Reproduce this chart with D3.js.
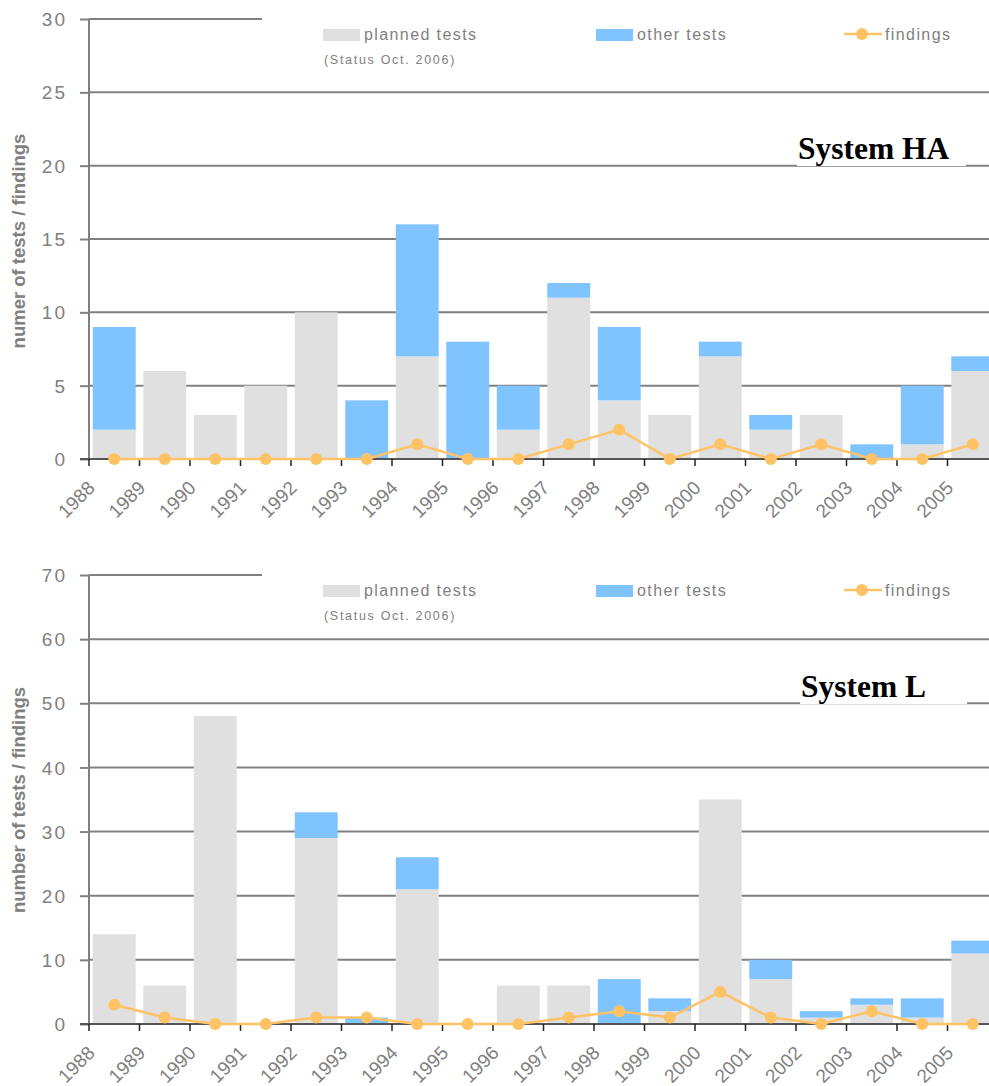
<!DOCTYPE html>
<html>
<head>
<meta charset="utf-8">
<script src="https://cdn.jsdelivr.net/npm/d3@7"></script>
<style>
  body { margin: 0; background: #fff; }
  text { font-family: "Liberation Sans", Arial, sans-serif; }
  text.title { font-family: "Liberation Serif", "Times New Roman", serif; }
</style>
</head>
<body>
<svg id="chart"></svg>
<script>
// years shown on both charts
var years = ["1988", "1989", "1990", "1991", "1992", "1993", "1994", "1995", "1996",
             "1997", "1998", "1999", "2000", "2001", "2002", "2003", "2004", "2005"];

// System HA
var haPlanned  = [2, 6, 3, 5, 10, 0, 7, 0, 2, 11, 4, 3, 7, 2, 3, 0, 1, 6];
var haOther    = [7, 0, 0, 0, 0, 4, 9, 8, 3, 1, 5, 0, 1, 1, 0, 1, 4, 1];
var haFindings = [0, 0, 0, 0, 0, 0, 1, 0, 0, 1, 2, 0, 1, 0, 1, 0, 0, 1];
var haTicks    = [0, 5, 10, 15, 20, 25, 30];

// System L
var lPlanned  = [14, 6, 48, 0, 29, 0, 21, 0, 6, 6, 0, 2, 35, 7, 1, 3, 1, 11];
var lOther    = [0, 0, 0, 0, 4, 1, 5, 0, 0, 0, 7, 2, 0, 3, 1, 1, 3, 2];
var lFindings = [3, 1, 0, 0, 1, 1, 0, 0, 0, 1, 2, 1, 5, 1, 0, 2, 0, 0];
var lTicks    = [0, 10, 20, 30, 40, 50, 60, 70];

var colPlanned = "#e0e0e0", colOther = "#80c4ff", colFind = "#ffc264", grey = "#808080";

var svg = d3.select("#chart").attr("width", 989).attr("height", 1086);

var draw = function(opt) {
	var g = svg.append("g");
	var left = 89, right = 998;

	var x = d3.scaleBand().domain(years).range([left, right])
		.paddingInner(0.15).paddingOuter(0.075);
	var y = d3.scaleLinear().domain([0, d3.max(opt.ticks)]).range([opt.bottom, opt.top]);
	var step = x.step();

	// grid lines
	g.append("g").selectAll("line").data(opt.ticks.slice(1)).enter().append("line")
		.attr("x1", left).attr("x2", 989)
		.attr("y1", function(d) { return y(d); }).attr("y2", function(d) { return y(d); })
		.attr("stroke", grey).attr("stroke-width", 2);

	// legend box hides the top grid line
	g.append("rect").attr("x", 262).attr("y", opt.top - 9).attr("width", 727).attr("height", 60)
		.attr("fill", "#fff");

	// stacked bars
	var bars = g.append("g");
	bars.selectAll("rect.p").data(years).enter().append("rect").attr("class", "p")
		.attr("x", function(d) { return x(d); })
		.attr("width", x.bandwidth())
		.attr("y", function(d, i) { return y(opt.planned[i]); })
		.attr("height", function(d, i) { return y(0) - y(opt.planned[i]); })
		.attr("fill", colPlanned);
	bars.selectAll("rect.o").data(years).enter().append("rect").attr("class", "o")
		.attr("x", function(d) { return x(d); })
		.attr("width", x.bandwidth())
		.attr("y", function(d, i) { return y(opt.planned[i] + opt.other[i]); })
		.attr("height", function(d, i) { return y(opt.planned[i]) - y(opt.planned[i] + opt.other[i]); })
		.attr("fill", colOther);

	// y axis
	var yAxis = g.append("g").attr("transform", "translate(" + left + ",0)")
		.call(d3.axisLeft(y).tickValues(opt.ticks).tickSize(9).tickPadding(13));
	yAxis.select(".domain").attr("stroke", grey).attr("stroke-width", 2).attr("d",
		"M0," + opt.bottom + "V" + opt.top);
	yAxis.selectAll(".tick line").attr("stroke", grey).attr("stroke-width", 2);
	yAxis.selectAll(".tick text").attr("fill", grey).attr("font-size", 19)
		.attr("letter-spacing", 2).attr("dy", "0.35em");

	// x axis, ticks between categories
	var xAxis = g.append("g").attr("transform", "translate(0," + opt.bottom + ")")
		.call(d3.axisBottom(x).tickSize(7));
	xAxis.select(".domain").attr("stroke", "#555").attr("stroke-width", 2)
		.attr("d", "M" + (left - 9) + ",0H989");
	xAxis.selectAll(".tick line").attr("stroke", "#222").attr("stroke-width", 1.5)
		.attr("x1", -step / 2).attr("x2", -step / 2).attr("y1", 0);
	xAxis.selectAll(".tick text")
		.attr("fill", grey).attr("font-size", 19)
		.attr("text-anchor", "end").attr("y", 0).attr("dy", 0)
		.attr("transform", "translate(" + (-step / 2 + 7) + ",30) rotate(-45)");

	// findings line
	var line = d3.line()
		.x(function(d, i) { return x(years[i]) + x.bandwidth() / 2; })
		.y(function(d) { return y(d); });
	g.append("path").datum(opt.findings).attr("d", line)
		.attr("fill", "none").attr("stroke", colFind).attr("stroke-width", 2.5);
	g.append("g").selectAll("circle").data(opt.findings).enter().append("circle")
		.attr("cx", function(d, i) { return x(years[i]) + x.bandwidth() / 2; })
		.attr("cy", function(d) { return y(d); })
		.attr("r", 6).attr("fill", colFind);

	// legend
	var lg = g.append("g").attr("transform", "translate(0," + (opt.top + 10) + ")");
	lg.append("rect").attr("x", 323).attr("y", 0).attr("width", 37).attr("height", 12).attr("fill", colPlanned);
	lg.append("text").attr("x", 364).attr("y", 11).text("planned tests")
		.attr("fill", grey).attr("font-size", 16).attr("letter-spacing", 1.4);
	lg.append("text").attr("x", 324).attr("y", 35).text("(Status Oct. 2006)")
		.attr("fill", grey).attr("font-size", 12.5).attr("letter-spacing", 1.7);
	lg.append("rect").attr("x", 596).attr("y", 0).attr("width", 37).attr("height", 12).attr("fill", colOther);
	lg.append("text").attr("x", 637).attr("y", 11).text("other tests")
		.attr("fill", grey).attr("font-size", 16).attr("letter-spacing", 1.4);
	lg.append("line").attr("x1", 844).attr("x2", 882).attr("y1", 5).attr("y2", 5)
		.attr("stroke", colFind).attr("stroke-width", 2.5);
	lg.append("circle").attr("cx", 862).attr("cy", 5).attr("r", 6).attr("fill", colFind);
	lg.append("text").attr("x", 885).attr("y", 11).text("findings")
		.attr("fill", grey).attr("font-size", 16).attr("letter-spacing", 1.4);

	// chart title with white background
	var tg = g.append("g");
	var tt = tg.append("text").attr("class", "title")
		.attr("x", opt.titleX).attr("y", opt.titleY).text(opt.title)
		.attr("font-weight", "bold").attr("font-size", 31.5).attr("fill", "#000");
	var bb = tt.node().getBBox();
	tg.insert("rect", "text").attr("x", opt.titleX - 1).attr("y", bb.y).attr("width", opt.titleW)
		.attr("height", bb.height).attr("fill", "#fff");

	// y axis title
	g.append("text").text(opt.yTitle)
		.attr("transform", "translate(25," + opt.yTitleC + ") rotate(-90)")
		.attr("text-anchor", "middle").attr("font-weight", "bold")
		.attr("font-size", 18.5).attr("fill", grey);
};

draw({ top: 19, bottom: 459, ticks: haTicks, planned: haPlanned, other: haOther,
	findings: haFindings, title: "System HA", titleX: 798, titleY: 159, titleW: 169,
	yTitle: "numer of tests / findings", yTitleC: 241 });
draw({ top: 575, bottom: 1024, ticks: lTicks, planned: lPlanned, other: lOther,
	findings: lFindings, title: "System L", titleX: 801, titleY: 697, titleW: 167,
	yTitle: "number of tests / findings", yTitleC: 800 });
</script>
</body>
</html>
